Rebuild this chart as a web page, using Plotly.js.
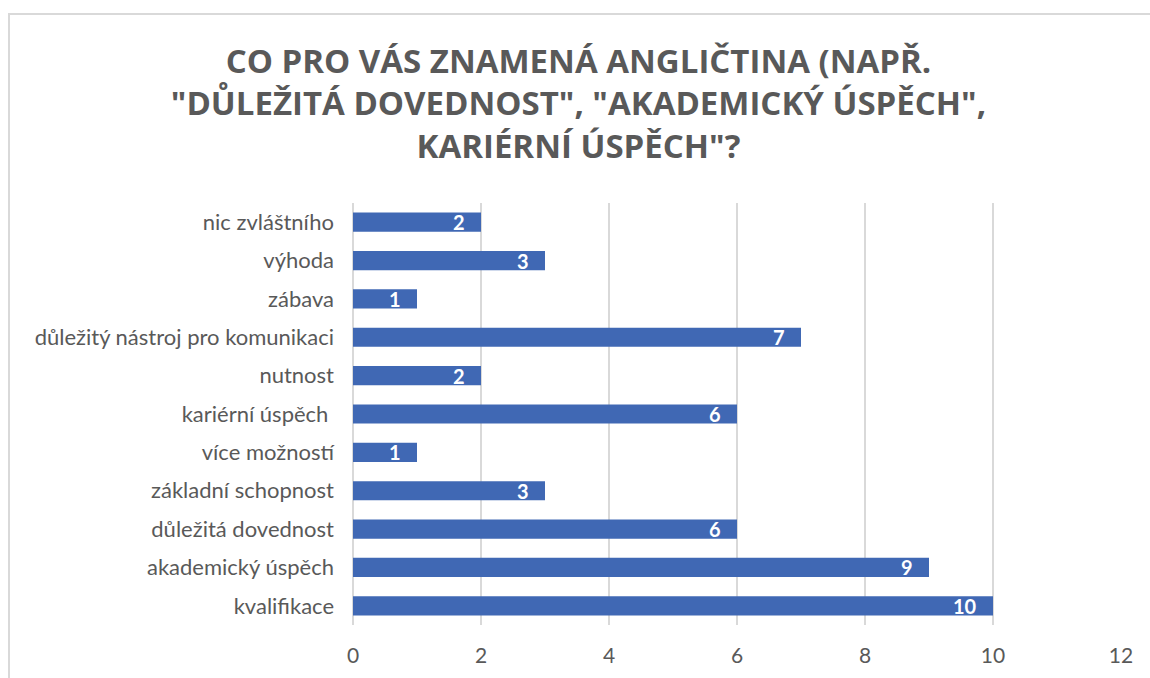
<!DOCTYPE html>
<html>
<head>
<meta charset="utf-8">
<script src="https://cdn.plot.ly/plotly-3.0.1.min.js"></script>
<style>
html,body{margin:0;padding:0;overflow:hidden;background:#fff;}
#chart{width:1150px;height:678px;position:absolute;left:0;top:0;}
#frame{position:absolute;left:8px;top:13px;width:1300px;height:800px;border:2px solid #d9d9d9;pointer-events:none;}
</style>
</head>
<body>
<div id="chart"></div>
<div id="frame"></div>
<script>
const categories = [
  "kvalifikace",
  "akademický úspěch",
  "důležitá dovednost",
  "základní schopnost",
  "více možností",
  "kariérní úspěch ",
  "nutnost",
  "důležitý nástroj pro komunikaci",
  "zábava",
  "výhoda",
  "nic zvláštního"
];
const values = [10, 9, 6, 3, 1, 6, 2, 7, 1, 3, 2];
const xTicks = [0, 2, 4, 6, 8, 10, 12];
const titleText = 'CO PRO VÁS ZNAMENÁ ANGLIČTINA (NAPŘ.<br>"DŮLEŽITÁ DOVEDNOST", "AKADEMICKÝ ÚSPĚCH",<br>KARIÉRNÍ ÚSPĚCH"?';

const trace = {
  type: 'bar',
  orientation: 'h',
  y: categories,
  x: values,
  marker: {color: '#4068B4'},
  width: 0.5,
  hoverinfo: 'none'
};

const labelAnnotations = values.map((v, i) => ({
  x: v,
  y: categories[i],
  xref: 'x',
  yref: 'y',
  text: '<b>' + v + '</b>',
  showarrow: false,
  xanchor: 'right',
  yanchor: 'middle',
  xshift: -14,
  yshift: 0,
  font: {family: 'Lato, "Open Sans", sans-serif', size: 20, color: '#ffffff'}
}));

const layout = {
  width: 1150,
  height: 678,
  margin: {l: 353, r: 29, t: 203, b: 53},
  paper_bgcolor: '#ffffff',
  plot_bgcolor: '#ffffff',
  showlegend: false,
  annotations: labelAnnotations,
  title: {
    text: titleText,
    x: 0.503,
    xanchor: 'center',
    y: 0.893,
    yanchor: 'top',
    font: {family: '"Open Sans", "Noto Sans", sans-serif', size: 33, color: '#595959', weight: 'bold'}
  },
  xaxis: {
    range: [0, 12],
    tickvals: xTicks,
    ticktext: xTicks.map(String),
    showgrid: true,
    gridcolor: '#d9d9d9',
    gridwidth: 1.5,
    zeroline: true,
    zerolinecolor: '#d9d9d9',
    zerolinewidth: 1.5,
    showline: false,
    ticks: '',
    ticklabelstandoff: 16,
    tickfont: {family: 'Lato, "Open Sans", sans-serif', size: 21, color: '#595959'},
    fixedrange: true
  },
  yaxis: {
    type: 'category',
    categoryorder: 'array',
    categoryarray: categories,
    range: [-0.5, 10.5],
    showgrid: false,
    zeroline: false,
    showline: false,
    ticks: '',
    ticklabelstandoff: 18,
    tickfont: {family: 'Lato, "Open Sans", sans-serif', size: 22, color: '#595959'},
    fixedrange: true
  }
};

Plotly.newPlot('chart', [trace], layout, {displayModeBar: false, staticPlot: true});
</script>
</body>
</html>
